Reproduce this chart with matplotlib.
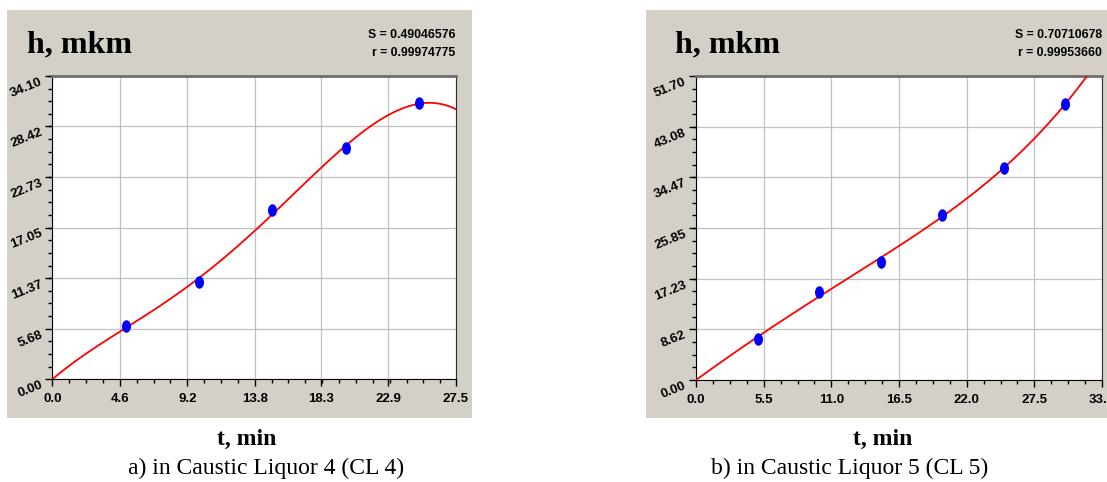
import numpy as np
import matplotlib
matplotlib.use("Agg")
import matplotlib.pyplot as plt
from matplotlib.patches import Rectangle
from matplotlib.path import Path
from matplotlib.ticker import FixedLocator, AutoMinorLocator

# data
t_a = [5, 10, 15, 20, 25]
h_a = [6.0, 10.9, 19.0, 26.0, 31.0]
t_b = [5, 10, 15, 20, 25, 30]
h_b = [6.9, 15.0, 20.0, 28.1, 36.0, 46.9]

xticks_a = [0.0, 4.6, 9.2, 13.8, 18.3, 22.9, 27.5]
yticks_a = ["0.00", "5.68", "11.37", "17.05", "22.73", "28.42", "34.10"]
xticks_b = [0.0, 5.5, 11.0, 16.5, 22.0, 27.5, 33.0]
yticks_b = ["0.00", "8.62", "17.23", "25.85", "34.47", "43.08", "51.70"]

stats_a = ["S = 0.49046576", "r = 0.99974775"]
stats_b = ["S = 0.70710678", "r = 0.99953660"]
captions = ["a) in Caustic Liquor 4 (CL 4)", "b) in Caustic Liquor 5 (CL 5)"]

W, H = 1107, 482
GRAY = "#d4d0c8"

fig = plt.figure(figsize=(W / 100, H / 100), dpi=100)
fig.patch.set_facecolor("white")

# ellipse marker (taller than wide)
circ = Path.unit_circle()
ell = Path(circ.vertices * np.array([0.72, 1.0]), circ.codes)


def px(x0, y0, x1, y1):
    return [x0 / W, 1 - y1 / H, (x1 - x0) / W, (y1 - y0) / H]


def fit_origin(t, h, deg):
    # least squares polynomial with zero intercept
    t = np.asarray(t, float)
    A = np.column_stack([t ** k for k in range(1, deg + 1)])
    c, *_ = np.linalg.lstsq(A, np.asarray(h, float), rcond=None)
    return lambda x: sum(c[k - 1] * x ** k for k in range(1, deg + 1))


def panel(box, axbox, t, h, xt, yt, stats, cap, xlab_cx, cap_cx, title_x, deg):
    b = px(*box)
    fig.patches.append(Rectangle((b[0], b[1]), b[2], b[3], transform=fig.transFigure,
                                 facecolor=GRAY, edgecolor="none", zorder=-10))
    ax = fig.add_axes(px(*axbox))
    ax.set_zorder(2)
    ax.set_facecolor("white")
    xmax = xt[-1]
    ymax = float(yt[-1])
    ax.set_xlim(0, xmax)
    ax.set_ylim(0, ymax)

    f = fit_origin(t, h, deg)
    xs = np.linspace(0, xmax, 300)
    ax.plot(xs, f(xs), color="#ff0000", lw=1.3, zorder=3)
    ax.plot(t, h, linestyle="none", marker=ell, markersize=9, color="#0000ff",
            markeredgewidth=0, zorder=4)

    ax.xaxis.set_major_locator(FixedLocator(xt))
    ax.yaxis.set_major_locator(FixedLocator([float(v) for v in yt]))
    ax.xaxis.set_minor_locator(AutoMinorLocator(4))
    ax.yaxis.set_minor_locator(AutoMinorLocator(4))
    ax.set_xticklabels([f"{v:.1f}" for v in xt], fontweight="bold", fontsize=9.5,
                       family="Liberation Sans")
    ax.set_yticklabels(yt, fontweight="bold", fontsize=9.5, family="Liberation Sans",
                       rotation=22, rotation_mode="anchor", ha="right", va="top")
    ax.tick_params(which="major", direction="out", length=5, width=1)
    ax.tick_params(which="minor", direction="out", length=3, width=1)
    ax.tick_params(axis="x", which="major", pad=5)
    ax.tick_params(axis="y", which="major", pad=4)
    ax.grid(True, which="major", color="#c0c0c0", lw=0.9)
    ax.set_axisbelow(True)
    ax.spines["top"].set_color("#6e6e6e")
    ax.spines["top"].set_linewidth(2)
    ax.spines["right"].set_color("#303030")
    ax.spines["left"].set_color("black")
    ax.spines["bottom"].set_color("black")

    fig.text(title_x / W, 1 - 52 / H, "h, mkm", family="Liberation Serif",
             fontweight="bold", fontsize=23, va="baseline", ha="left")
    fig.text(axbox[2] / W, 1 - 35 / H, stats[0], family="Liberation Sans",
             fontweight="bold", fontsize=8.8, ha="right", va="center")
    fig.text(axbox[2] / W, 1 - 53 / H, stats[1], family="Liberation Sans",
             fontweight="bold", fontsize=8.8, ha="right", va="center")
    fig.text(xlab_cx / W, 1 - 445 / H, "t, min", family="Liberation Serif",
             fontweight="bold", fontsize=17, ha="center", va="baseline")
    fig.text(cap_cx / W, 1 - 474 / H, cap, family="Liberation Serif",
             fontsize=17, ha="center", va="baseline")
    return ax


panel((7, 10, 472, 417.7), (52.3, 75.7, 455.7, 379.3), t_a, h_a, xticks_a, yticks_a,
      stats_a, captions[0], 246.5, 266, 27, 4)
panel((646, 10, 1107, 417.7), (696, 76, 1102, 380), t_b, h_b, xticks_b, yticks_b,
      stats_b, captions[1], 883, 850, 675, 4)

fig.savefig("out.png", dpi=100, facecolor="white")
